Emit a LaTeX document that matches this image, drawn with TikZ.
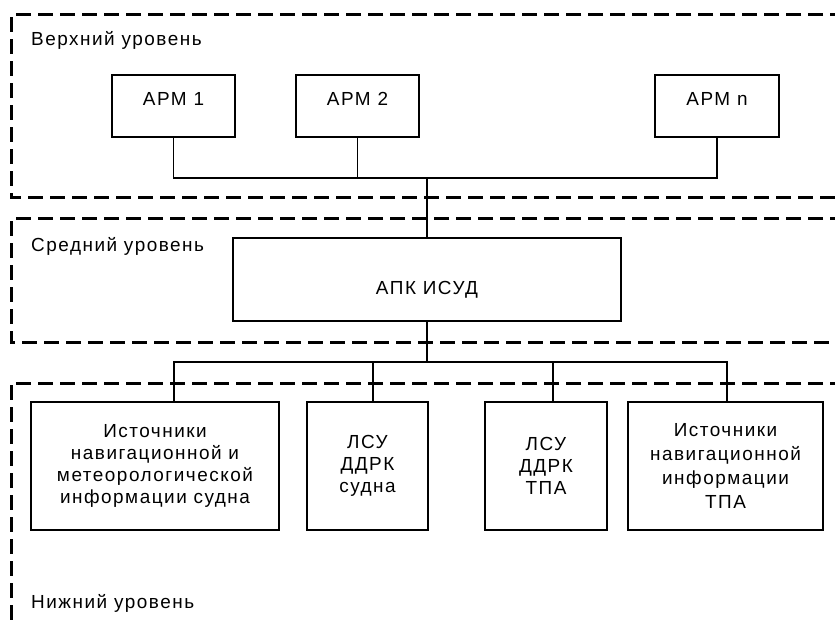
\documentclass[tikz,border=0pt]{standalone}
\usepackage{fontspec}
\setmainfont{Liberation Sans}[LetterSpace=8]
\tikzset{every node/.style={font=\fontsize{19}{22}\selectfont},
  box/.style={draw, line width=2bp, align=center, inner sep=0pt},
  tier/.style={line width=3bp, dash pattern=on 15bp off 7bp},
  link/.style={line width=1.7bp}}

\begin{document}
\begin{tikzpicture}[x=1bp,y=-1bp]
  \useasboundingbox (0,0) rectangle (835,624);
  % levels
  \draw[tier] (845,15) -- (11,15) -- (11,198) -- (845,198);
  \draw[tier] (845,219) -- (11,219) -- (11,342) -- (845,342);
  \draw[tier] (845,383) -- (11,383) -- (11,630);
  \node[anchor=base west,inner sep=0pt] (upper) at (31,46) {Верхний уровень};
  \node[anchor=base west,inner sep=0pt] (middle) at (31,251) {Средний уровень};
  \node[anchor=base west,inner sep=0pt] (lower) at (31,608) {Нижний уровень};
  % workstations
  \node[box,minimum width=123bp,minimum height=62bp,text depth=14bp] (arm1) at (173.5,106) {АРМ 1};
  \node[box,minimum width=123bp,minimum height=62bp,text depth=14bp] (arm2) at (357.5,106) {АРМ 2};
  \node[box,minimum width=124bp,minimum height=62bp,text depth=14bp] (armn) at (717,106) {АРМ n};
  \node[box,minimum width=388bp,minimum height=82bp,text height=29bp,text depth=0pt] (apk) at (427,279.5) {АПК ИСУД};
  % sources
  \node[box,minimum width=248bp,minimum height=128bp] (src1) at (155,466)
    {Источники\\навигационной и\\метеорологической\\информации судна};
  \node[box,minimum width=121bp,minimum height=128bp] (lsu1) at (367.5,466) {ЛСУ\\ДДРК\\судна};
  \node[box,minimum width=122bp,minimum height=128bp] (lsu2) at (546,466) {ЛСУ\\ДДРК\\ТПА};
  \node[box,minimum width=195bp,minimum height=128bp,font=\fontsize{19}{24}\selectfont] (src2) at (725.5,466)
    {Источники\\навигационной\\информации\\ТПА};
  % buses
  \coordinate (topbus) at (427,178);
  \coordinate (lowbus) at (427,362);
  \draw[link] (arm1.south) |- (topbus) -| (armn.south);
  \draw[link] (arm2.south) -- (arm2.south |- topbus);
  \draw[link] (topbus) -- (apk.north);
  \draw[link] (apk.south) -- (lowbus);
  \draw[link] ([xshift=19bp]src1.north) |- (lowbus) -| ([xshift=1.5bp]src2.north);
  \draw[link] ([xshift=5.5bp]lsu1.north) -- ([xshift=5.5bp]lsu1.north |- lowbus);
  \draw[link] ([xshift=7bp]lsu2.north) -- ([xshift=7bp]lsu2.north |- lowbus);
\end{tikzpicture}
\end{document}
